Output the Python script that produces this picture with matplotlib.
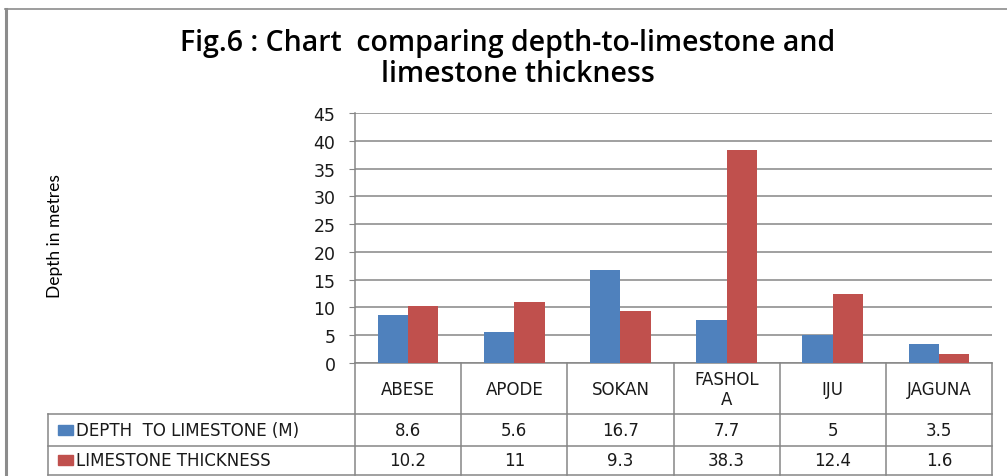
import textwrap
import numpy as np
import matplotlib
matplotlib.use("Agg")
from matplotlib import pyplot as plt
from matplotlib import transforms
from matplotlib.patches import Rectangle
from matplotlib.lines import Line2D

sites = ["ABESE", "APODE", "SOKAN", "FASHOLA", "IJU", "JAGUNA"]
depth = [8.6, 5.6, 16.7, 7.7, 5, 3.5]
thickness = [10.2, 11, 9.3, 38.3, 12.4, 1.6]
series_names = ["DEPTH  TO LIMESTONE (M)", "LIMESTONE THICKNESS"]
depth_txt = ["8.6", "5.6", "16.7", "7.7", "5", "3.5"]
thick_txt = ["10.2", "11", "9.3", "38.3", "12.4", "1.6"]
colors = ["#4F81BD", "#C0504D"]
grid_col = "#868686"

W, H = 1007, 477
fig = plt.figure(figsize=(W / 100, H / 100), dpi=100)

# outer chart frame
fig.add_artist(Line2D([5.5 / W, 5.5 / W], [0, 1 - 10 / H], color="#8c8c8c", lw=2.2))
fig.add_artist(Line2D([5 / W, 1], [1 - 10 / H, 1 - 10 / H], color="#8c8c8c", lw=1.2))

ax = fig.add_axes([355 / W, (H - 364) / H, 637 / W, 250 / H])

x = np.arange(len(sites))
bw = 0.285
ax.bar(x - bw / 2, depth, bw, color=colors[0], zorder=3)
ax.bar(x + bw / 2, thickness, bw, color=colors[1], zorder=3)

ax.set_xlim(-0.5, len(sites) - 0.5)
ax.set_ylim(0, 45)
ax.set_yticks(np.arange(0, 46, 5))
ax.yaxis.grid(True, color=grid_col, lw=1.1, zorder=0)
ax.set_xticks([])
for s in ["top", "right"]:
    ax.spines[s].set_visible(False)
for s in ["left", "bottom"]:
    ax.spines[s].set_color(grid_col)
    ax.spines[s].set_linewidth(1.1)
ax.tick_params(axis="y", length=4, color=grid_col, labelsize=12.5, pad=10,
               labelcolor="#1a1a1a")
for lab in ax.get_yticklabels():
    lab.set_fontfamily("DejaVu Sans")

fig.text(55 / W, 1 - 236 / H, "Depth in metres", rotation=90, ha="center", va="center",
         fontsize=12.5, family="Lato")

fig.text(508 / W, 1 - 43 / H, "Fig.6 : Chart  comparing depth-to-limestone and",
         ha="center", va="center", fontsize=20.5, fontweight="semibold", family="Open Sans")
fig.text(518 / W, 1 - 74 / H, "limestone thickness",
         ha="center", va="center", fontsize=20.5, fontweight="semibold", family="Open Sans")

# data table under the axis
tr = transforms.blended_transform_factory(ax.transData, ax.transAxes)
def ya(p):
    return (364 - p) / 250

lkw = dict(color=grid_col, lw=1.1, clip_on=False)
for b in np.arange(-0.5, len(sites), 1.0):
    ax.plot([b, b], [0, ya(476)], transform=tr, **lkw)
ax.plot([-0.482, 1], [ya(415), ya(415)], transform=ax.transAxes, **lkw)
ax.plot([-0.482, 1], [ya(447), ya(447)], transform=ax.transAxes, **lkw)
ax.plot([-0.482, 1], [ya(476), ya(476)], transform=ax.transAxes, **lkw)
ax.plot([-0.482, -0.482], [ya(415), ya(476)], transform=ax.transAxes, **lkw)

tkw = dict(fontsize=12, family="DejaVu Sans", color="#1a1a1a", clip_on=False)
for i, s in enumerate(sites):
    ax.text(i, ya(390), textwrap.fill(s, 6), transform=tr, ha="center", va="center",
            linespacing=1.1, **tkw)
    ax.text(i, ya(431), depth_txt[i], transform=tr, ha="center", va="center", **tkw)
    ax.text(i, ya(461), thick_txt[i], transform=tr, ha="center", va="center", **tkw)

for j, (name, yc) in enumerate(zip(series_names, [431, 461])):
    ax.add_patch(Rectangle((-0.466, ya(yc + 5)), 0.023, 10 / 250, transform=ax.transAxes,
                           color=colors[j], clip_on=False))
    ax.text(-0.438, ya(yc), name, transform=ax.transAxes, ha="left", va="center", **tkw)

fig.savefig("out.png", dpi=100)
